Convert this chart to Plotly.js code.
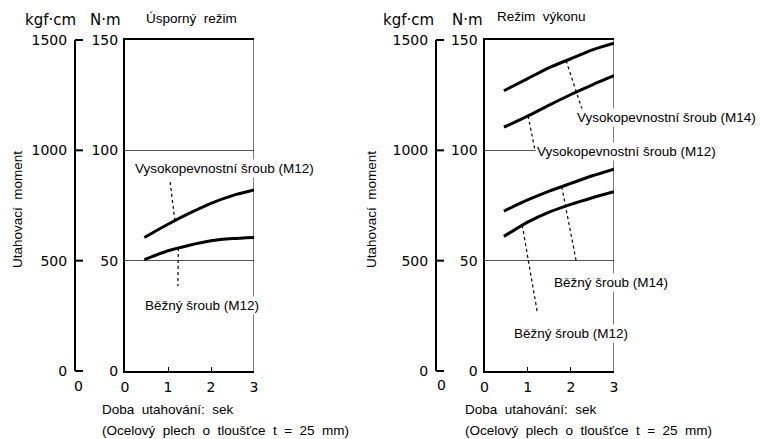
<!DOCTYPE html>
<html>
<head>
<meta charset="utf-8">
<script src="https://cdn.plot.ly/plotly-3.0.1.min.js"></script>
<style>html,body{margin:0;padding:0;background:#fff;}#chart{width:761px;height:439px;}</style>
</head>
<body>
<div id="chart"></div>
<script>
// ---------- data ----------
const timeSec = [0.45, 1.0, 1.5, 2.0, 2.5, 3.0];

// Left panel: Úsporný režim (N·m)
const ecoHighM12 = [60.5, 66.5, 71.5, 76.0, 79.5, 82.0];
const ecoNormM12 = [50.5, 54.5, 57.0, 59.0, 60.0, 60.5];

// Right panel: Režim výkonu (N·m)
const powHighM14 = [127.0, 132.5, 137.5, 141.5, 145.5, 148.5];
const powHighM12 = [110.5, 115.5, 120.5, 125.3, 129.7, 133.8];
const powNormM14 = [72.5, 77.5, 81.5, 85.0, 88.5, 91.5];
const powNormM12 = [61.0, 67.5, 72.0, 75.5, 78.5, 81.2];

const nmTicks = [0, 50, 100, 150];
const kgfTicks = [0, 500, 1000, 1500];
const xTicks = [0, 1, 2, 3];

const labelEcoHigh = 'Vysokopevnostní šroub (M12)';
const labelEcoNorm = 'Běžný šroub (M12)';
const labelPowHigh14 = 'Vysokopevnostní šroub (M14)';
const labelPowHigh12 = 'Vysokopevnostní šroub (M12)';
const labelPowNorm14 = 'Běžný šroub (M14)';
const labelPowNorm12 = 'Běžný šroub (M12)';
const titleEco = 'Úsporný  režim';
const titlePow = 'Režim  výkonu';
const unitKgf = 'kgf·cm';
const unitNm = 'N·m';
const yTitle = 'Utahovací  moment';
const xTitle1 = 'Doba  utahování:  sek';
const xTitle2 = '(Ocelový  plech  o  tloušťce  t  =  25  mm)';

// ---------- styling ----------
const TXT = '"Liberation Sans", Arial, sans-serif';
const NUM = '"DejaVu Sans", sans-serif';
const TS = 13.5;
const W = 761, H = 439;
const dom1 = [125 / W, 254 / W];
const dom2 = [484.5 / W, 614 / W];
const ydom = [68 / H, 399 / H];
const kgfPos1 = 75 / W, kgfPos2 = 436 / W;
const kgfMax = 1500;

function interp(xs, ys, x) {
  for (let i = 0; i < xs.length - 1; i++) {
    if (x >= xs[i] && x <= xs[i + 1]) {
      const t = (x - xs[i]) / (xs[i + 1] - xs[i]);
      return ys[i] + t * (ys[i + 1] - ys[i]);
    }
  }
  return ys[ys.length - 1];
}

function curve(y, xa, ya) {
  return {x: timeSec, y: y, xaxis: xa, yaxis: ya, mode: 'lines', type: 'scatter',
    line: {color: '#000', width: 3, shape: 'spline', smoothing: 0.6},
    hoverinfo: 'skip', showlegend: false};
}
const dummy = (xa, ya) => ({x: [null], y: [null], xaxis: xa, yaxis: ya, type: 'scatter', mode: 'lines', hoverinfo: 'skip', showlegend: false});

const traces = [
  curve(ecoHighM12, 'x', 'y'),
  curve(ecoNormM12, 'x', 'y'),
  curve(powHighM14, 'x2', 'y2'),
  curve(powHighM12, 'x2', 'y2'),
  curve(powNormM14, 'x2', 'y2'),
  curve(powNormM12, 'x2', 'y2'),
  dummy('x', 'y3'),
  dummy('x2', 'y4')
];

function xAx(dom, anchor) {
  return {domain: dom, anchor: anchor, range: [0, 3], tickvals: xTicks, ticktext: xTicks.map(String),
    ticks: 'inside', ticklen: 4, tickwidth: 1, tickcolor: '#000',
    showline: true, linewidth: 2, linecolor: '#000', mirror: true,
    showgrid: false, zeroline: false, fixedrange: true,
    ticklabelstandoff: 2,
    tickfont: {family: NUM, size: 14, color: '#000'}};
}
function yAx(anchor) {
  return {domain: ydom, anchor: anchor, range: [0, 150], tickvals: nmTicks, ticktext: nmTicks.map(String),
    ticks: '', showline: true, linewidth: 2, linecolor: '#000', mirror: false,
    showgrid: true, gridcolor: '#555', gridwidth: 1, zeroline: false, fixedrange: true,
    ticklabelstandoff: 2,
    tickfont: {family: NUM, size: 14, color: '#000'}};
}
function kgfAx(over, pos) {
  return {overlaying: over, anchor: 'free', position: pos, side: 'left', range: [0, kgfMax],
    tickvals: kgfTicks, ticktext: kgfTicks.map(String),
    ticks: '', showline: true, linewidth: 2, linecolor: '#000', showgrid: false, zeroline: false, fixedrange: true,
    ticklabelstandoff: 4,
    tickfont: {family: NUM, size: 14, color: '#000'}};
}

const dotted = {color: '#000', width: 1.2, dash: 'dot'};
function leader(xa, ya, xs, ys, xStart, xEnd, yEnd) {
  return {type: 'line', xref: xa, yref: ya, x0: xStart, y0: interp(xs, ys, xStart), x1: xEnd, y1: yEnd, line: dotted, layer: 'above'};
}
function rightEdge(xa, ya) {
  return {type: 'line', xref: xa, yref: ya + ' domain', x0: 3, x1: 3, y0: 0, y1: 1, line: {color: '#000', width: 1}, layer: 'above'};
}
// tick marks on the kgf·cm axes (pointing right); paper refs so they are not clipped
function kgfTickMarks(pos) {
  return kgfTicks.map(v => {
    const yy = ydom[0] + (v / kgfMax) * (ydom[1] - ydom[0]);
    return {type: 'line', xref: 'paper', yref: 'paper', x0: pos, x1: pos + 8 / W,
      y0: yy, y1: yy, line: {color: '#000', width: 2}, layer: 'above'};
  });
}

const shapes = [
  rightEdge('x', 'y'), rightEdge('x2', 'y2'),
  leader('x', 'y', timeSec, ecoHighM12, 1.16, 1.05, 85.6),
  leader('x', 'y', timeSec, ecoNormM12, 1.24, 1.23, 38.5),
  leader('x2', 'y2', timeSec, powHighM14, 1.89, 2.28, 117.4),
  leader('x2', 'y2', timeSec, powHighM12, 1.01, 1.17, 100.1),
  leader('x2', 'y2', timeSec, powNormM14, 1.79, 2.13, 49.2),
  leader('x2', 'y2', timeSec, powNormM12, 0.875, 1.22, 27.0)
].concat(kgfTickMarks(kgfPos1), kgfTickMarks(kgfPos2));

function ptxt(text, x, y, opts) {
  return Object.assign({text: text, xref: 'paper', yref: 'paper', x: x / W, y: 1 - y / H, showarrow: false,
    xanchor: 'center', yanchor: 'middle',
    font: {family: TXT, size: TS, color: '#000'}}, opts || {});
}
function lab(text, x, y) {
  return ptxt(text, x, y, {bgcolor: '#fff', borderpad: 1});
}
const numFont = {family: NUM, size: 15, color: '#000'};

const annotations = [
  lab(labelEcoHigh, 224.5, 168),
  lab(labelEcoNorm, 201.5, 305),
  lab(labelPowHigh14, 666, 117),
  lab(labelPowHigh12, 626.5, 151),
  lab(labelPowNorm14, 611, 282),
  lab(labelPowNorm12, 571, 333),
  // headers
  ptxt(unitKgf, 50, 20, {font: numFont}),
  ptxt(unitNm, 106, 20, {font: numFont}),
  ptxt(titleEco, 144, 19, {xanchor: 'left'}),
  ptxt(unitKgf, 409, 20, {font: numFont}),
  ptxt(unitNm, 467, 20, {font: numFont}),
  ptxt(titlePow, 495, 17, {xanchor: 'left'}),
  // extra zero under kgf axes
  ptxt('0', 78, 386, {font: {family: NUM, size: 14, color: '#000'}}),
  ptxt('0', 441, 385, {font: {family: NUM, size: 14, color: '#000'}}),
  // y titles
  ptxt(yTitle, 18, 210, {textangle: -90}),
  ptxt(yTitle, 372, 210, {textangle: -90}),
  // x titles
  ptxt(xTitle1, 100, 409, {xanchor: 'left'}),
  ptxt(xTitle2, 100, 430, {xanchor: 'left'}),
  ptxt(xTitle1, 463, 409, {xanchor: 'left'}),
  ptxt(xTitle2, 463, 430, {xanchor: 'left'})
];

const layout = {
  width: W, height: H, margin: {l: 0, r: 0, t: 0, b: 0},
  paper_bgcolor: '#fff', plot_bgcolor: '#fff', showlegend: false,
  xaxis: xAx(dom1, 'y'),
  yaxis: yAx('x'),
  xaxis2: xAx(dom2, 'y2'),
  yaxis2: yAx('x2'),
  yaxis3: kgfAx('y', kgfPos1),
  yaxis4: kgfAx('y2', kgfPos2),
  shapes: shapes,
  annotations: annotations
};

Plotly.newPlot('chart', traces, layout, {staticPlot: true, displayModeBar: false});
</script>
</body>
</html>
